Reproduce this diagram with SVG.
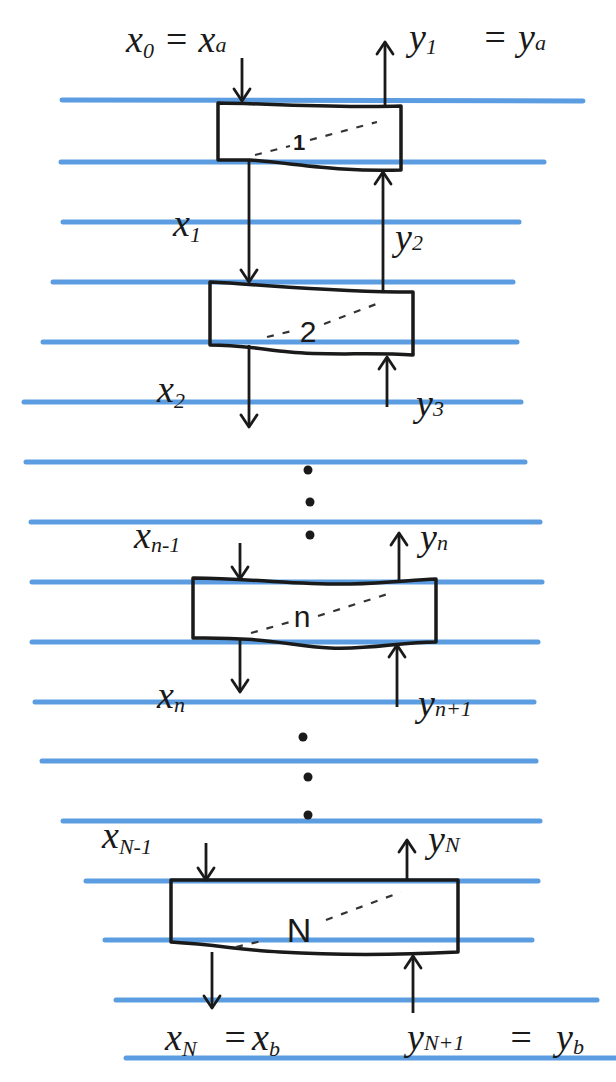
<svg xmlns="http://www.w3.org/2000/svg" width="616" height="1082" viewBox="0 0 616 1082">
  <style>
    .rule { stroke: #5b9de0; stroke-width: 5; stroke-linecap: round; }
    .box { fill: none; stroke: #1a1a1a; stroke-width: 3.5; stroke-linejoin: round; }
    .conn { fill: none; stroke: #1a1a1a; stroke-width: 2.8; marker-end: url(#arr); }
    .dash { fill: none; stroke: #333; stroke-width: 2.2; stroke-dasharray: 7 9; }
    .lbl { font-family: "Liberation Serif", serif; font-style: italic; font-size: 38px; fill: #1a1a1a; }
    .sub { font-size: 22px; }
    .num { font-family: "Liberation Sans", sans-serif; font-size: 30px; fill: #1a1a1a; text-anchor: middle; }
    .dot { fill: #1a1a1a; }
  </style>
  <defs>
    <marker id="arr" markerUnits="userSpaceOnUse" markerWidth="30" markerHeight="30" viewBox="-15 -15 30 30" refX="0" refY="0" orient="auto">
      <path d="M-12,-8 L0,0 L-12,8" fill="none" stroke="#1a1a1a" stroke-width="2.8" stroke-linecap="round" stroke-linejoin="round"/>
    </marker>
  </defs>
  <rect x="0" y="0" width="616" height="1082" fill="#ffffff"/>
  <g id="paper">
    <line class="rule" x1="62" y1="100" x2="583" y2="101"/>
    <line class="rule" x1="61" y1="162" x2="544" y2="162"/>
    <line class="rule" x1="63" y1="222" x2="519" y2="222"/>
    <line class="rule" x1="53" y1="282" x2="513" y2="282"/>
    <line class="rule" x1="43" y1="342" x2="517" y2="342"/>
    <line class="rule" x1="24" y1="402" x2="521" y2="402"/>
    <line class="rule" x1="26" y1="462" x2="525" y2="462"/>
    <line class="rule" x1="31" y1="522" x2="540" y2="522"/>
    <line class="rule" x1="32" y1="582" x2="542" y2="582"/>
    <line class="rule" x1="32" y1="642" x2="538" y2="642"/>
    <line class="rule" x1="35" y1="702" x2="534" y2="702"/>
    <line class="rule" x1="42" y1="761" x2="536" y2="761"/>
    <line class="rule" x1="63" y1="821" x2="540" y2="821"/>
    <line class="rule" x1="86" y1="881" x2="538" y2="881"/>
    <line class="rule" x1="105" y1="940" x2="532" y2="940"/>
    <line class="rule" x1="116" y1="1000" x2="597" y2="1000"/>
    <line class="rule" x1="126" y1="1058" x2="616" y2="1058"/>
  </g>
  <g id="node-1">
    <path class="box" d="M218,103 C280,104 340,108 401,106 L401,170 C340,172 300,164 250,160 L218,160 Z"/>
    <path class="dash" d="M255,155 L290,146 M310,140 L377,122"/>
    <text class="num" x="299" y="150" style="font-size:22px;font-weight:bold">1</text>
  </g>
  <g id="node-2">
    <path class="box" d="M210,282 C270,285 330,292 413,292 L413,355 C370,352 330,356 290,352 C260,349 240,345 210,345 Z"/>
    <path class="dash" d="M267,337 L292,331 M324,324 L379,303"/>
    <text class="num" x="308" y="342">2</text>
  </g>
  <g id="node-n">
    <path class="box" d="M193,578 C260,579 300,585 350,584 C390,583 410,580 436,579 L436,642 C400,642 370,650 330,648 C290,646 270,637 193,638 Z"/>
    <path class="dash" d="M251,633 L290,622 M318,616 L391,593"/>
    <text class="num" x="302" y="627">n</text>
  </g>
  <g id="node-N">
    <path class="box" d="M171,880 L458,880 L458,952 C400,955 330,955 280,952 C240,950 220,945 171,942 Z"/>
    <path class="dash" d="M236,947 L266,940 M326,920 L401,892"/>
    <text class="num" x="299" y="942" style="font-size:34px">N</text>
  </g>
  <g id="connectors">
    <path class="conn" d="M242,58 L242,101"/>
    <path class="conn" d="M385,107 L385,42"/>
    <path class="conn" d="M249,160 L249,282"/>
    <path class="conn" d="M383,292 L383,172"/>
    <path class="conn" d="M249,345 L249,427"/>
    <path class="conn" d="M387,407 L387,357"/>
    <path class="conn" d="M240,543 L240,579"/>
    <path class="conn" d="M399,583 L399,533"/>
    <path class="conn" d="M240,638 L240,692"/>
    <path class="conn" d="M397,707 L397,645"/>
    <path class="conn" d="M206,843 L206,880"/>
    <path class="conn" d="M407,880 L407,840"/>
    <path class="conn" d="M212,952 L212,1008"/>
    <path class="conn" d="M413,1013 L413,956"/>
  </g>
  <g id="ellipsis">
    <circle class="dot" cx="308" cy="470" r="4.5"/>
    <circle class="dot" cx="310" cy="502" r="4.5"/>
    <circle class="dot" cx="310" cy="535" r="4.5"/>
    <circle class="dot" cx="303" cy="737" r="4.5"/>
    <circle class="dot" cx="308" cy="777" r="4.5"/>
    <circle class="dot" cx="308" cy="815" r="4.5"/>
  </g>
  <g id="labels">
    <text class="lbl" x="126" y="52">x<tspan class="sub" dy="6">0</tspan><tspan dy="-6"> = x</tspan><tspan class="sub">a</tspan></text>
    <text class="lbl" x="409" y="50">y<tspan class="sub" dy="4">1</tspan><tspan dy="-4" x="482">=</tspan><tspan x="518">y</tspan><tspan class="sub">a</tspan></text>
    <text class="lbl" x="173" y="236">x<tspan class="sub" dy="6">1</tspan></text>
    <text class="lbl" x="395" y="250">y<tspan class="sub">2</tspan></text>
    <text class="lbl" x="157" y="402">x<tspan class="sub" dy="6">2</tspan></text>
    <text class="lbl" x="416" y="416">y<tspan class="sub">3</tspan></text>
    <text class="lbl" x="134" y="548">x<tspan class="sub" dy="4">n-1</tspan></text>
    <text class="lbl" x="420" y="550">y<tspan class="sub">n</tspan></text>
    <text class="lbl" x="157" y="708">x<tspan class="sub" dy="4">n</tspan></text>
    <text class="lbl" x="418" y="716">y<tspan class="sub">n+1</tspan></text>
    <text class="lbl" x="102" y="848">x<tspan class="sub" dy="6">N-1</tspan></text>
    <text class="lbl" x="428" y="852">y<tspan class="sub">N</tspan></text>
    <text class="lbl" x="165" y="1050">x<tspan class="sub" dy="6">N</tspan><tspan dy="-6" x="222">=</tspan><tspan x="252">x</tspan><tspan class="sub" dy="6">b</tspan></text>
    <text class="lbl" x="407" y="1050">y<tspan class="sub">N+1</tspan><tspan x="508">=</tspan><tspan x="556">y</tspan><tspan class="sub" dy="4">b</tspan></text>
  </g>
</svg>
